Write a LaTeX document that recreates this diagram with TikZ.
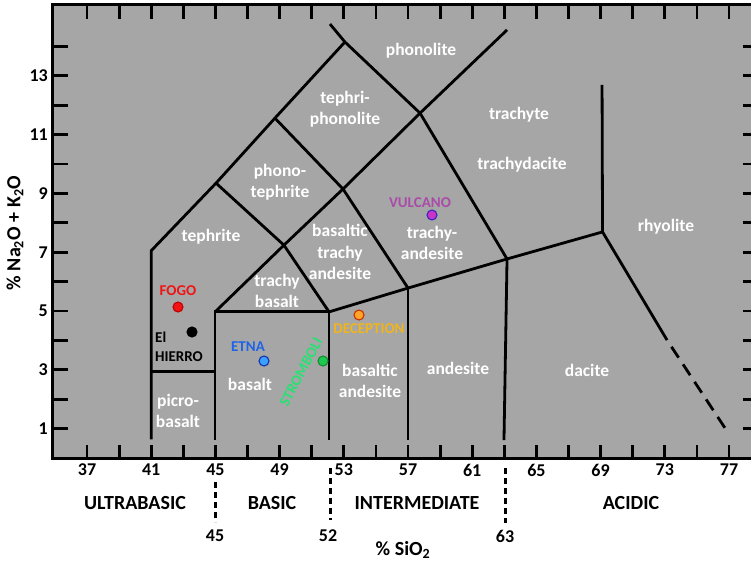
\documentclass[tikz,border=0pt]{standalone}
\usepackage{fontspec}
\setmainfont{Carlito}
\definecolor{plotgray}{RGB}{166,166,166}
\definecolor{fogored}{RGB}{240,20,20}
\definecolor{fogoedge}{RGB}{190,0,0}
\definecolor{etnatext}{RGB}{30,100,230}
\definecolor{etnafill}{RGB}{60,160,255}
\definecolor{etnaedge}{RGB}{20,50,170}
\definecolor{stromtext}{RGB}{40,225,115}
\definecolor{stromfill}{RGB}{30,200,80}
\definecolor{stromedge}{RGB}{20,140,50}
\definecolor{dectext}{RGB}{240,180,30}
\definecolor{decfill}{RGB}{255,165,40}
\definecolor{decedge}{RGB}{200,50,0}
\definecolor{vultext}{RGB}{170,75,170}
\definecolor{vulfill}{RGB}{205,50,200}
\definecolor{vuledge}{RGB}{50,40,190}
\begin{document}
\begin{tikzpicture}[x=1pt,y=-1pt,
  rl/.style={line width=2.8pt, line join=miter},
  tk/.style={line width=2.8pt},
  region/.style={text=white, font=\fontsize{17.5}{21.5}\selectfont\bfseries, align=center, inner sep=0pt},
  tl/.style={font=\fontsize{18}{20}\selectfont\bfseries, inner sep=0pt},
  grp/.style={font=\fontsize{20}{22}\selectfont\bfseries, inner sep=0pt},
  vlab/.style={font=\fontsize{15}{19}\selectfont\bfseries, inner sep=0pt},
  dot/.style={circle, minimum size=10pt, inner sep=0pt, line width=1.1pt},
  sep/.style={line width=3pt, dash pattern=on 6pt off 4pt}]
\clip (0,0) rectangle (751,562);
\fill[white] (0,0) rectangle (751,562);
\begin{scope}[shift={(-506.85pt,-458pt)}, x=16.05pt, y=29.4pt]
  % frame
  \draw[line width=3pt, fill=plotgray] (34.88,0) rectangle (79.8,15.41);
  % ticks
  \foreach \s in {37,39,...,77} {
    \draw[tk] (\s,0) -- (\s,0.44);
    \draw[tk] (\s,15.41) -- (\s,14.93);
  }
  \foreach \n in {1,...,14} {
    \draw[tk] (34.88,\n) -- (35.81,\n);
    \draw[tk] (77.87,\n) -- (79.8,\n);
  }
  \foreach \s in {37,41,...,77} \node[tl] at (\s,-0.41) {\s};
  \foreach \n in {1,3,...,13} \node[tl, anchor=east] at (34.57,\n) {\n};
  % vertices
  \coordinate (p41a) at (41,0.63);
  \coordinate (p41b) at (41,2.93);
  \coordinate (p41c) at (41,7.05);
  \coordinate (p45h) at (44.98,2.93);
  \coordinate (p45a) at (44.98,0.61);
  \coordinate (p45b) at (44.98,4.97);
  \coordinate (p45c) at (45.04,9.35);
  \coordinate (p48) at (48.71,11.56);
  \coordinate (p53t) at (53.07,14.15);
  \coordinate (pnw) at (52.14,14.76);
  \coordinate (p49) at (49.27,7.24);
  \coordinate (p52a) at (52.08,0.61);
  \coordinate (p52b) at (52.08,4.97);
  \coordinate (p53) at (52.95,9.15);
  \coordinate (p57a) at (57,0.61);
  \coordinate (p57b) at (57,5.78);
  \coordinate (p57c) at (57.75,11.73);
  \coordinate (p63t) at (63.17,14.56);
  \coordinate (p63b) at (63.17,6.77);
  \coordinate (p63a) at (62.98,0.61);
  \coordinate (p69) at (69.12,7.69);
  \coordinate (p69t) at (69.09,12.69);
  \coordinate (pd1) at (73.14,4.01);
  \coordinate (pd2) at (76.75,1.02);
  % boundaries
  \draw[rl] (p41a) -- (p41c) -- (p45c) -- (p48) -- (p53t);
  \draw[rl] (pnw) -- (p53t) -- (p57c) -- (p63b);
  \draw[rl] (p41b) -- (p45h);
  \draw[rl] (p45a) -- (p45b) -- (p52b) -- (p52a);
  \draw[rl] (p45b) -- (p49) -- (p53) -- (p57c) -- (p63t);
  \draw[rl] (p45c) -- (p49) -- (p52b);
  \draw[rl] (p48) -- (p53) -- (p57b);
  \draw[rl] (p52b) -- (p57b) -- (p63b) -- (p69) -- (pd1);
  \draw[rl] (p57b) -- (p57a);
  \draw[rl] (p63b) -- (p63a);
  \draw[rl] (p69) -- (p69t);
  \draw[rl, dash pattern=on 13pt off 8pt, dash phase=13pt] (pd1) -- (pd2);
\end{scope}
% region labels
\node[region] (phon) at (421,51) {phonolite};
\node[region] (tphon) at (345,109) {tephri-\\phonolite};
\node[region] (ptep) at (280,182) {phono-\\tephrite};
\node[region] (tep) at (211,237) {tephrite};
\node[region] (bta) at (340,252) {basaltic\\trachy\\andesite};
\node[region] (tb) at (277,291) {trachy\\basalt};
\node[region] (ta) at (432,243) {trachy-\\andesite};
\node[region] (tr) at (519,115) {trachyte};
\node[region] (td) at (522,165) {trachydacite};
\node[region] (rh) at (666,227) {rhyolite};
\node[region] (bas) at (250,384) {basalt};
\node[region] (pb) at (178,411) {picro-\\basalt};
\node[region] (ba) at (370,381) {basaltic\\andesite};
\node[region] (and) at (458,368) {andesite};
\node[region] (dac) at (587,370) {dacite};
% samples
\node[vlab, text=fogored] (fogol) at (178,291) {FOGO};
\node[dot, fill=fogored, draw=fogoedge] (fogo) at (178,307) {};
\node[vlab, align=left, anchor=west] (hierl) at (155,347) {El\\HIERRO};
\node[dot, fill=black, draw=black] (hier) at (192,332) {};
\node[vlab, text=etnatext] (etnal) at (248,347) {ETNA};
\node[dot, fill=etnafill, draw=etnaedge] (etna) at (264,361) {};
\node[vlab, text=stromtext, rotate=62] (stroml) at (301,372) {STROMBOLI};
\node[dot, fill=stromfill, draw=stromedge] (strom) at (323,361) {};
\node[vlab, text=dectext] (decl) at (369,329) {DECEPTION};
\node[dot, fill=decfill, draw=decedge] (dec) at (359,315) {};
\node[vlab, text=vultext] (vull) at (420,203) {VULCANO};
\node[dot, fill=vulfill, draw=vuledge] (vul) at (432,215) {};
% axis titles
\node[grp, rotate=90] (ylab) at (15,233) {\% Na\textsubscript{2}O + K\textsubscript{2}O};
\node[grp] (xlab) at (403,550) {\% SiO\textsubscript{2}};
% groups
\node[grp] (ub) at (135,503) {ULTRABASIC};
\node[grp] (bs) at (272,503) {BASIC};
\node[grp] (im) at (417,503) {INTERMEDIATE};
\node[grp] (ac) at (631,503) {ACIDIC};
\coordinate (s45a) at (215,482);
\coordinate (s45b) at (215,522);
\coordinate (s52a) at (330,468);
\coordinate (s52b) at (330,520);
\coordinate (s63a) at (505,468);
\coordinate (s63b) at (505,523);
\draw[sep] (s45a) -- (s45b);
\draw[sep] (s52a) -- (s52b);
\draw[sep] (s63a) -- (s63b);
\node[tl] (n45) at (215,536) {45};
\node[tl] (n52) at (328,536) {52};
\node[tl] (n63) at (505,536) {63};
\end{tikzpicture}
\end{document}
